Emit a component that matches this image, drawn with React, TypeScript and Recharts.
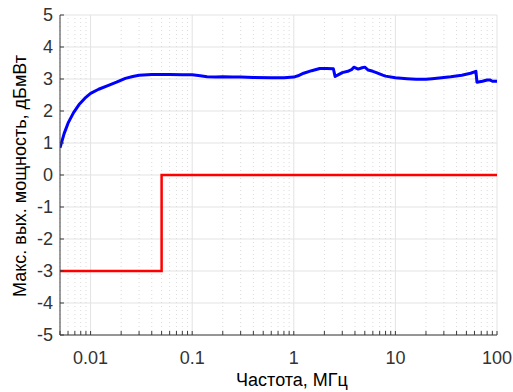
import React from "react";
import {
  LineChart,
  Line,
  XAxis,
  YAxis,
  CartesianGrid,
  ReferenceLine,
} from "recharts";

// Max output power of the generator (blue) and the required limit (red)
const measuredFreq = [
  0.005, 0.0055, 0.006, 0.0068, 0.0077, 0.0088, 0.01, 0.012, 0.015, 0.018,
  0.022, 0.026, 0.03, 0.04, 0.06, 0.08, 0.1, 0.12, 0.14, 0.17, 0.2, 0.25, 0.3,
  0.4, 0.6, 0.8, 1.0, 1.1, 1.25, 1.5, 1.8, 2.1, 2.45, 2.55, 2.7, 3.0, 3.4, 3.7,
  3.9, 4.3, 4.7, 5.0, 5.4, 6.0, 6.5, 7.5, 8.0, 10, 13, 16, 20, 23, 27, 35, 45,
  55, 62, 63.5, 72, 80, 85, 90, 100,
];
const measuredPower = [
  0.85, 1.3, 1.62, 1.95, 2.2, 2.4, 2.55, 2.68, 2.8, 2.9, 3.02, 3.08, 3.12,
  3.14, 3.14, 3.13, 3.13, 3.1, 3.07, 3.06, 3.07, 3.06, 3.06, 3.05, 3.04, 3.04,
  3.06, 3.1, 3.18, 3.26, 3.33, 3.33, 3.32, 3.08, 3.12, 3.2, 3.24, 3.29, 3.37,
  3.31, 3.35, 3.37, 3.28, 3.24, 3.2, 3.12, 3.09, 3.04, 3.01, 2.99, 2.99, 3.01,
  3.03, 3.07, 3.12, 3.18, 3.24, 2.9, 2.93, 2.97, 2.97, 2.93, 2.93,
];

const limitFreq = [0.005, 0.05, 0.05, 100];
const limitPower = [-3, -3, 0, 0];

const majorTicks = [0.01, 0.1, 1, 10, 100];
const majorLabels = ["0.01", "0.1", "1", "10", "100"];
const minorTicks = [
  0.005, 0.006, 0.007, 0.008, 0.009,
  0.02, 0.03, 0.04, 0.05, 0.06, 0.07, 0.08, 0.09,
  0.2, 0.3, 0.4, 0.5, 0.6, 0.7, 0.8, 0.9,
  2, 3, 4, 5, 6, 7, 8, 9,
  20, 30, 40, 50, 60, 70, 80, 90,
];
const yTicks = [-5, -4, -3, -2, -1, 0, 1, 2, 3, 4, 5];

const measured = measuredFreq.map((f, i) => ({ f, p: measuredPower[i] }));
const limit = limitFreq.map((f, i) => ({ f, p: limitPower[i] }));
const xTicks = [...minorTicks, ...majorTicks].sort((a, b) => a - b);

const AXIS = "#3a3a3a";
const TEXT = "#333333";
const FONT = "'Liberation Sans', Arial, sans-serif";
const TICK_LEN = 4;

const BottomTick = ({ x, y, payload }: any) => {
  const idx = majorTicks.indexOf(payload.value);
  return (
    <g>
      <line x1={x} x2={x} y1={y} y2={y - TICK_LEN} stroke={AXIS} />
      {idx >= 0 && (
        <text
          x={x}
          y={y + 29}
          textAnchor="middle"
          fontSize={18}
          fontFamily={FONT}
          fill={TEXT}
        >
          {majorLabels[idx]}
        </text>
      )}
    </g>
  );
};

const TopTick = ({ x, y }: any) => (
  <line x1={x} x2={x} y1={y} y2={y + TICK_LEN} stroke={AXIS} />
);

const LeftTick = ({ x, y, payload }: any) => (
  <g>
    <line x1={x} x2={x + TICK_LEN} y1={y} y2={y} stroke={AXIS} />
    <text
      x={x - 7}
      y={y + 6}
      textAnchor="end"
      fontSize={18}
      fontFamily={FONT}
      fill={TEXT}
    >
      {payload.value}
    </text>
  </g>
);

const RightTick = ({ x, y }: any) => (
  <line x1={x} x2={x - TICK_LEN} y1={y} y2={y} stroke={AXIS} />
);

const App: React.FC = () => {
  return (
    <div
      style={{
        position: "absolute",
        left: 0,
        top: 0,
        width: 513,
        height: 392,
        background: "#fff",
        overflow: "hidden",
      }}
    >
      <LineChart
        width={513}
        height={392}
        margin={{ top: 15, right: 16, bottom: 27, left: 0 }}
      >
        <CartesianGrid vertical={false} stroke="#e3e3e3" />
        {minorTicks.map((v) => (
          <ReferenceLine
            key={`minor-${v}`}
            x={v}
            stroke="#dadada"
            strokeDasharray="1 3"
          />
        ))}
        {majorTicks.map((v) => (
          <ReferenceLine key={`major-${v}`} x={v} stroke="#e3e3e3" />
        ))}
        <XAxis
          dataKey="f"
          type="number"
          scale="log"
          domain={[0.005, 100]}
          allowDataOverflow
          ticks={xTicks}
          interval={0}
          height={30}
          tickSize={0}
          tickMargin={0}
          tickLine={false}
          axisLine={{ stroke: AXIS }}
          tick={<BottomTick />}
        />
        <XAxis
          xAxisId="top"
          orientation="top"
          dataKey="f"
          type="number"
          scale="log"
          domain={[0.005, 100]}
          allowDataOverflow
          ticks={xTicks}
          interval={0}
          height={0}
          tickSize={0}
          tickMargin={0}
          tickLine={false}
          axisLine={{ stroke: AXIS }}
          tick={<TopTick />}
        />
        <YAxis
          type="number"
          domain={[-5, 5]}
          ticks={yTicks}
          interval={0}
          width={60}
          tickSize={0}
          tickMargin={0}
          tickLine={false}
          axisLine={{ stroke: AXIS }}
          tick={<LeftTick />}
        />
        <YAxis
          yAxisId="right"
          orientation="right"
          type="number"
          domain={[-5, 5]}
          ticks={yTicks}
          interval={0}
          width={0}
          tickSize={0}
          tickMargin={0}
          tickLine={false}
          axisLine={{ stroke: AXIS }}
          tick={<RightTick />}
        />
        <Line
          data={limit}
          dataKey="p"
          type="linear"
          stroke="#ff0000"
          strokeWidth={2.5}
          dot={false}
          isAnimationActive={false}
        />
        <Line
          data={measured}
          dataKey="p"
          type="linear"
          stroke="#0000ff"
          strokeWidth={3}
          strokeLinejoin="round"
          dot={false}
          isAnimationActive={false}
        />
      </LineChart>
      <div
        style={{
          position: "absolute",
          left: 292,
          top: 369,
          transform: "translateX(-50%)",
          whiteSpace: "nowrap",
          fontFamily: FONT,
          fontSize: 18,
          color: "#000",
          lineHeight: "22px",
        }}
      >
        Частота, МГц
      </div>
      <div
        style={{
          position: "absolute",
          left: 20,
          top: 176,
          transform: "translate(-50%, -50%) rotate(-90deg)",
          whiteSpace: "nowrap",
          fontFamily: FONT,
          fontSize: 18,
          color: "#000",
          lineHeight: "22px",
        }}
      >
        Макс. вых. мощность, дБмВт
      </div>
    </div>
  );
};

export default App;
